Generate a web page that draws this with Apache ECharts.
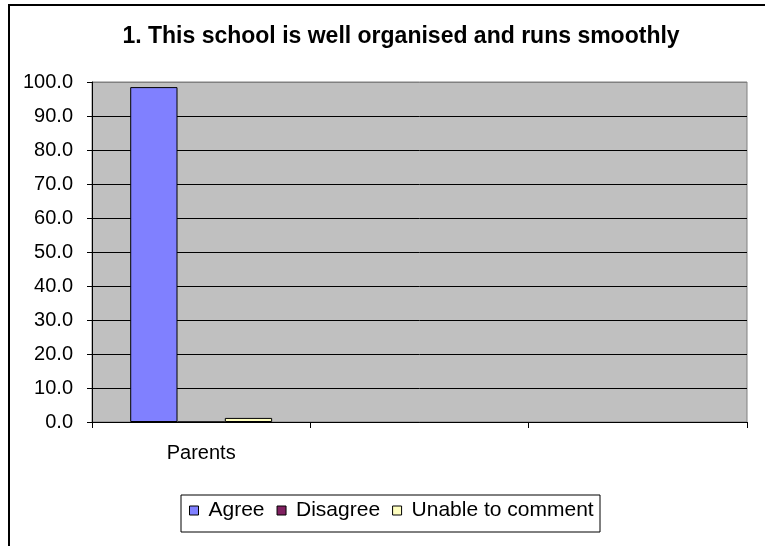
<!DOCTYPE html>
<html>
<head>
<meta charset="utf-8">
<script src="https://cdn.jsdelivr.net/npm/echarts@6/dist/echarts.min.js"></script>
<style>
html,body{margin:0;padding:0;background:#fff;}
#chart{width:765px;height:546px;}
</style>
</head>
<body>
<div id="chart"></div>
<script>
var titleText = '1. This school is well organised and runs smoothly';
var categories = ['Parents', '', ''];
var seriesNames = ['Agree', 'Disagree', 'Unable to comment'];
var agree = [98.5, null, null];
var disagree = [0, null, null];
var unable = [1.2, null, null];
var yTicks = [0, 10, 20, 30, 40, 50, 60, 70, 80, 90, 100];

var colors = ['#8080FF', '#802060', '#FFFFC0'];
var font = '"Liberation Sans", Arial, sans-serif';

var chart = echarts.init(document.getElementById('chart'), null, {renderer: 'canvas'});

var splitColors = yTicks.map(function (v, i) { return i === yTicks.length - 1 ? '#808080' : '#000000'; });

function mk(name, data, color) {
  return {
    name: name,
    type: 'bar',
    data: data,
    barGap: '0%',
    barCategoryGap: '35%',
    itemStyle: {color: color, borderColor: '#000', borderWidth: 1},
    emphasis: {disabled: true},
    animation: false
  };
}

chart.setOption({
  animation: false,
  backgroundColor: '#ffffff',
  title: {
    text: titleText,
    left: 396,
    top: 20,
    textAlign: 'center',
    textStyle: {fontFamily: font, fontSize: 23, fontWeight: 'bold', color: '#000'}
  },
  grid: {
    left: 92, right: 18, top: 82, bottom: 124,
    show: true,
    backgroundColor: '#C0C0C0',
    borderColor: '#808080',
    borderWidth: 1
  },
  legend: {
    data: seriesNames,
    left: 189,
    top: 500,
    padding: 0,
    itemWidth: 9,
    itemHeight: 9,
    itemGap: 12,
    icon: 'rect',
    itemStyle: {borderColor: '#000', borderWidth: 1},
    textStyle: {fontFamily: font, fontSize: 21, color: '#000', padding: [0, 0, 0, 5]}
  },
  xAxis: {
    type: 'category',
    data: categories,
    axisLine: {show: true, lineStyle: {color: '#000', width: 1}},
    axisTick: {show: true, length: 6, lineStyle: {color: '#000'}},
    axisLabel: {fontFamily: font, fontSize: 20, color: '#000', margin: 21},
    splitLine: {show: false}
  },
  yAxis: {
    type: 'value',
    min: 0, max: 100, interval: 10,
    axisLine: {show: true, lineStyle: {color: '#000', width: 1}},
    axisTick: {show: true, length: 5, lineStyle: {color: '#000'}},
    axisLabel: {
      fontFamily: font, fontSize: 20, color: '#000', margin: 19,
      formatter: function (v) { return v.toFixed(1); }
    },
    splitLine: {show: true, lineStyle: {color: splitColors, width: 1}}
  },
  series: [
    mk(seriesNames[0], agree, colors[0]),
    mk(seriesNames[1], disagree, colors[1]),
    mk(seriesNames[2], unable, colors[2])
  ],
  graphic: [
    {type: 'rect', shape: {x: 9, y: 5, width: 900, height: 700}, style: {fill: 'none', stroke: '#000', lineWidth: 2}, silent: true},
    {type: 'rect', shape: {x: 181, y: 495, width: 419, height: 37}, style: {fill: 'none', stroke: '#000', lineWidth: 1}, silent: true, z: -1}
  ]
});
</script>
</body>
</html>
